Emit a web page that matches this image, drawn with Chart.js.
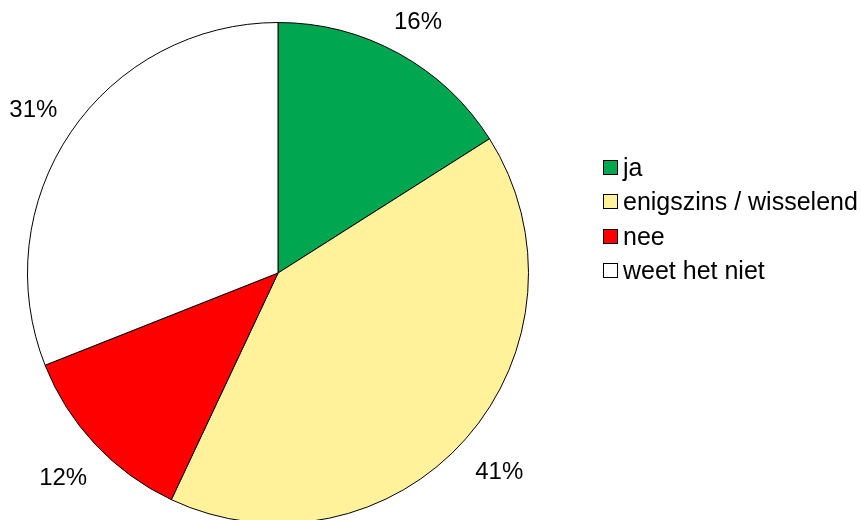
<!DOCTYPE html>
<html>
<head>
<meta charset="utf-8">
<script src="https://cdn.jsdelivr.net/npm/chart.js@4"></script>
<style>
    html, body { margin: 0; padding: 0; background: #fff; }
    #wrap { position: relative; width: 861px; height: 520px; overflow: hidden; }
    #pie { position: absolute; left: 0; top: 0; }
    #legend { position: absolute; left: 603px; top: 150px; font-family: "Liberation Sans", Arial, sans-serif; font-size: 25px; color: #000; }
    #legend .row { height: 34.5px; display: flex; align-items: center; white-space: nowrap; }
    #legend .box { width: 13px; height: 13px; border: 1px solid #000; margin-right: 5px; }
</style>
</head>
<body>
<div id="wrap">
    <canvas id="pie" width="861" height="546"></canvas>
    <div id="legend"></div>
</div>
<script>
var labels = ['ja', 'enigszins / wisselend', 'nee', 'weet het niet'];
var values = [16, 41, 12, 31];
var colors = ['#00a650', '#fff29a', '#ff0000', '#ffffff'];

// percentage labels outside the slices, pushed out by their own box size
var outsideLabels = {
    id: 'outsideLabels',
    afterDatasetsDraw: function(chart) {
        var ctx = chart.ctx;
        var meta = chart.getDatasetMeta(0);
        ctx.save();
        ctx.font = '24px "Liberation Sans", Arial, sans-serif';
        ctx.fillStyle = '#000';
        ctx.textAlign = 'center';
        ctx.textBaseline = 'middle';
        meta.data.forEach(function(arc, i) {
            var p = arc.getProps(['x', 'y', 'startAngle', 'endAngle', 'outerRadius'], true);
            var mid = (p.startAngle + p.endAngle) / 2;
            var txt = values[i] + '%';
            var hw = ctx.measureText(txt).width / 2 + 2;
            var hh = 12;
            var ux = Math.cos(mid), uy = Math.sin(mid);
            var r = p.outerRadius + 17 + Math.abs(ux) * hw + Math.abs(uy) * hh;
            ctx.fillText(txt, p.x + ux * r, p.y + uy * r + 4);
        });
        ctx.restore();
    }
};

new Chart(document.getElementById('pie').getContext('2d'), {
    type: 'pie',
    data: {
        labels: labels,
        datasets: [{
            data: values,
            backgroundColor: colors,
            borderColor: '#000',
            borderWidth: 1,
            hoverOffset: 0
        }]
    },
    options: {
        responsive: false,
        animation: false,
        devicePixelRatio: 1,
        layout: { padding: { left: 27, top: 22, right: 332, bottom: 22 } },
        plugins: {
            legend: { display: false },
            tooltip: { enabled: false }
        }
    },
    plugins: [outsideLabels]
});

var legendEl = document.getElementById('legend');
labels.forEach(function(l, i) {
    var row = document.createElement('div');
    row.className = 'row';
    var box = document.createElement('span');
    box.className = 'box';
    box.style.background = colors[i];
    var txt = document.createElement('span');
    txt.textContent = l;
    row.appendChild(box);
    row.appendChild(txt);
    legendEl.appendChild(row);
});
</script>
</body>
</html>
